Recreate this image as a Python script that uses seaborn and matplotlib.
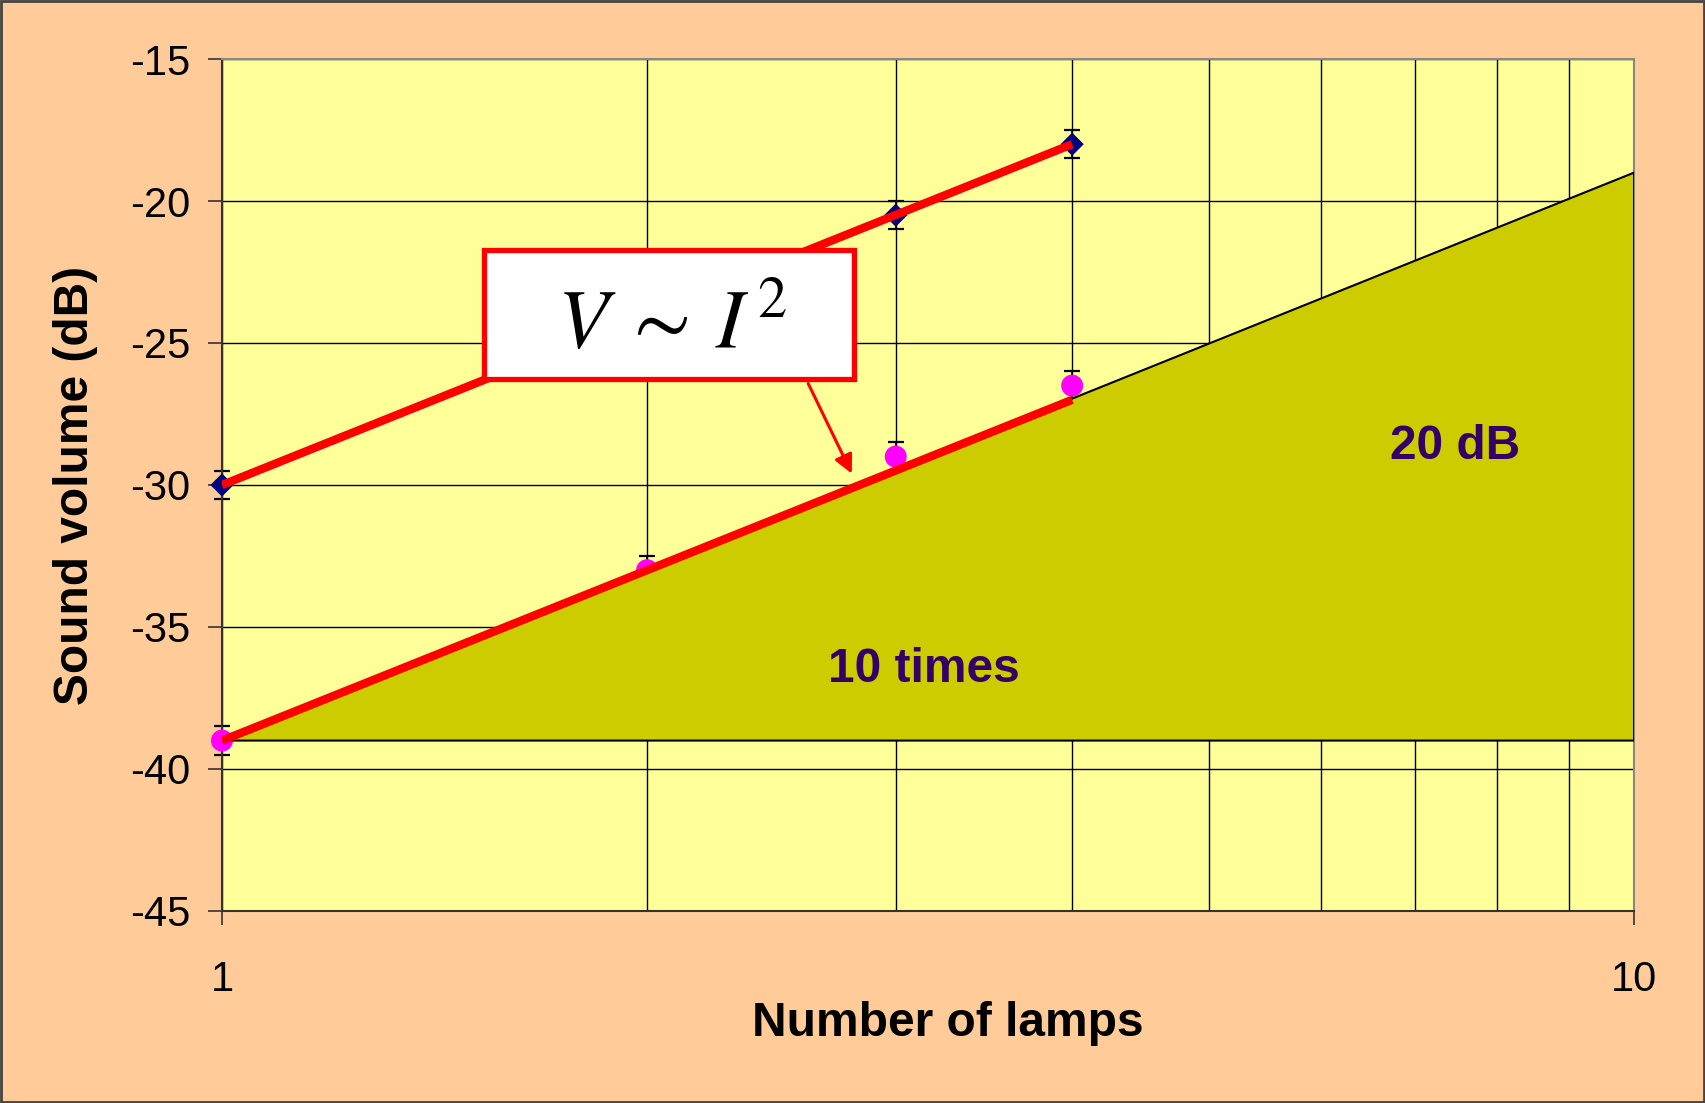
import numpy as np
import pandas as pd
import matplotlib
matplotlib.use("Agg")
import matplotlib.pyplot as plt
from matplotlib.patches import Rectangle
from matplotlib.ticker import FixedLocator, NullFormatter
import seaborn as sns

# Measured sound volume for two lamp arrangements
lamps_upper = [1, 3, 4]
volume_upper = [-30.0, -20.5, -18.0]
err_upper = [0.5, 0.5, 0.5]

lamps_lower = [1, 2, 3, 4]
volume_lower = [-39.0, -33.0, -29.0, -26.5]
err_lower = [0.5, 0.5, 0.5, 0.5]

# Straight-line fits (20 dB per decade) drawn over the measured range
fit_lamps = [1, 4]
fit_upper = [-30.0, -18.0]
fit_lower = [-39.0, -27.0]

# Reference triangle: 10 times more lamps -> 20 dB
tri_lamps = [1, 10, 10]
tri_volume = [-39.0, -19.0, -39.0]

y_ticks = [-45, -40, -35, -30, -25, -20, -15]
x_major = [1, 10]
x_minor = [2, 3, 4, 5, 6, 7, 8, 9]

sns.set_style("white")
plt.rcParams["font.family"] = ["Liberation Sans", "DejaVu Sans"]
plt.rcParams["mathtext.fontset"] = "stix"
plt.rcParams["text.color"] = "black"
plt.rcParams["axes.labelcolor"] = "black"
plt.rcParams["xtick.color"] = "black"
plt.rcParams["ytick.color"] = "black"

fig = plt.figure(figsize=(17.05, 11.03), dpi=100, facecolor="#FFCC99")
ax = fig.add_axes([0.1302, 0.1741, 0.8282, 0.7724])
ax.set_facecolor("#FFFF99")
ax.set_xscale("log")
ax.set_xlim(1, 10)
ax.set_ylim(-45, -15)

# grid
ax.set_axisbelow(True)
ax.xaxis.set_major_locator(FixedLocator(x_major))
ax.xaxis.set_minor_locator(FixedLocator(x_minor))
ax.xaxis.set_minor_formatter(NullFormatter())
ax.set_xticks(x_major)
ax.set_xticklabels([str(v) for v in x_major])
ax.set_yticks(y_ticks)
ax.set_yticklabels([str(v) for v in y_ticks])
ax.grid(which="minor", axis="x", color="black", lw=1.0)
ax.grid(which="major", axis="y", color="black", lw=1.0)
ax.grid(which="major", axis="x", color="black", lw=1.0)

# error bars
ax.errorbar(lamps_upper, volume_upper, yerr=err_upper, fmt="none", ecolor="black",
            elinewidth=1.2, capsize=6, capthick=1.6, zorder=2, clip_on=False)
ax.errorbar(lamps_lower, volume_lower, yerr=err_lower, fmt="none", ecolor="black",
            elinewidth=1.2, capsize=6, capthick=1.6, zorder=2, clip_on=False)

# measured points
sns.scatterplot(x=lamps_upper, y=volume_upper, marker="D", s=140, color="#000080",
                edgecolor="none", ax=ax, zorder=3, clip_on=False)
sns.scatterplot(x=lamps_lower, y=volume_lower, marker="o", s=250, color="#FF00FF",
                edgecolor="none", ax=ax, zorder=3, clip_on=False)

# reference triangle
ax.fill(tri_lamps, tri_volume, facecolor="#CCCC00", edgecolor="black", lw=1.5, zorder=4)

# fit lines
sns.lineplot(x=fit_lamps, y=fit_upper, color="red", lw=6, ax=ax, zorder=5,
             solid_capstyle="butt")
sns.lineplot(x=fit_lamps, y=fit_lower, color="red", lw=6, ax=ax, zorder=5,
             solid_capstyle="butt")

ax.text(3.14, -36.5, "10 times", color="#330066", fontsize=34.5, fontweight="bold",
        ha="center", va="center", zorder=6)
ax.text(7.47, -28.65, "20 dB", color="#330066", fontsize=34.5, fontweight="bold",
        ha="center", va="center", zorder=6)

# axes styling
for side in ["left", "bottom"]:
    ax.spines[side].set_color("#333333")
    ax.spines[side].set_linewidth(1.5)
for side in ["top", "right"]:
    ax.spines[side].set_color("#888888")
    ax.spines[side].set_linewidth(1.5)

ax.tick_params(axis="y", which="major", direction="out", length=10, width=1.2,
               color="#333333", labelcolor="black", labelsize=30, pad=13, left=True)
ax.tick_params(axis="x", which="major", direction="out", length=10, width=1.2,
               color="#333333", labelcolor="black", labelsize=30, pad=25, bottom=True)
ax.tick_params(axis="x", which="minor", length=0)

ax.set_xlabel("Number of lamps", fontsize=34.5, fontweight="bold", va="center",
              color="black")
ax.set_ylabel("Sound volume (dB)", fontsize=34.5, fontweight="bold", va="center",
              color="black")
ax.xaxis.set_label_coords(0.514, -0.132)
ax.yaxis.set_label_coords(-0.1034, 0.50)

# formula box with arrow pointing to the fit
fig.patches.append(Rectangle((0.2841, 0.6560), 0.2170, 0.1170, transform=fig.transFigure,
                             facecolor="white", edgecolor="red", lw=3.8, zorder=3))
fig.text(0.394, 0.6845, r"$V\:\sim\:I^{\;\!2}$", fontsize=60, ha="center", va="baseline",
         color="black", zorder=4)
ax.annotate("", xy=(0.5003, 0.5684), xycoords="figure fraction",
            xytext=(0.4733, 0.6546), textcoords="figure fraction",
            arrowprops=dict(arrowstyle="-|>", color="red", lw=2.2, mutation_scale=28),
            zorder=6)

# outer frame
fig.patches.append(Rectangle((0.0006, 0.0009), 0.9988, 0.9982, transform=fig.transFigure,
                             facecolor="none", edgecolor="#444444", lw=2, zorder=5))

fig.savefig("out.png", dpi=100, facecolor=fig.get_facecolor())
